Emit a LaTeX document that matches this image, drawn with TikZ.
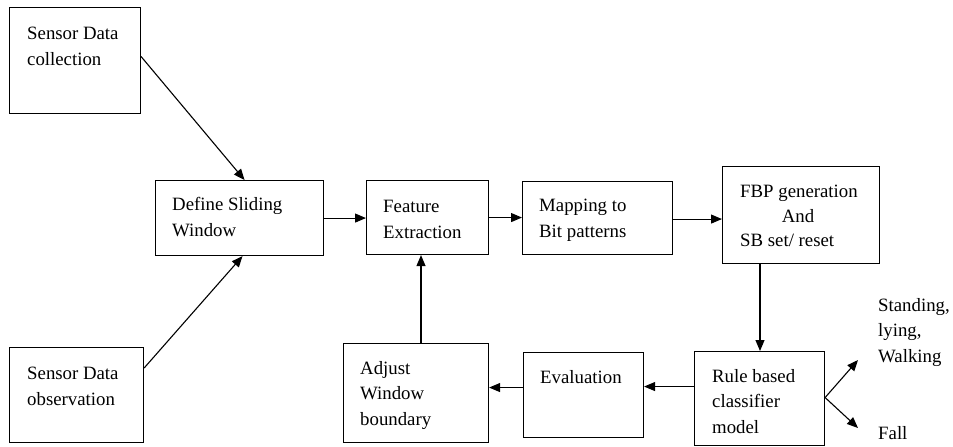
\documentclass[tikz,border=0pt]{standalone}
\usepackage{fontspec}
\setmainfont{Liberation Serif}
\usetikzlibrary{arrows.meta}
\begin{document}
\begin{tikzpicture}[x=1pt,y=-1pt,
  box/.style={draw, line width=1.1pt, inner sep=0pt, anchor=north west},
  txt/.style={anchor=base west, inner sep=0pt, align=left, font=\fontsize{18.8}{25.5}\selectfont},
  arr/.style={line width=1.1pt, -{Triangle[length=11pt,width=9pt]}},
  ln/.style={line width=1.1pt}]
\useasboundingbox (0,0) rectangle (953,447);
% boxes
\node[box, minimum width=131pt, minimum height=106pt] (col) at (9,7) {};
\node[box, minimum width=134pt, minimum height=95pt] (obs) at (9,347) {};
\node[box, minimum width=168pt, minimum height=75pt] (def) at (155,180) {};
\node[box, minimum width=122pt, minimum height=74pt] (fea) at (366,180) {};
\node[box, minimum width=150pt, minimum height=73pt] (map) at (522,181) {};
\node[box, minimum width=157pt, minimum height=97pt] (fbp) at (722,166) {};
\node[box, minimum width=130pt, minimum height=94pt] (rul) at (694,351) {};
\node[box, minimum width=120pt, minimum height=85pt] (eva) at (523,352) {};
\node[box, minimum width=145pt, minimum height=99pt] (adj) at (343,343) {};
% texts (anchor = baseline of last line)
\node[txt] (tcol) at (27,65) {Sensor Data\\collection};
\node[txt] (tobs) at (27,405) {Sensor Data\\observation};
\node[txt] (tdef) at (172,236) {Define Sliding\\Window};
\node[txt] (tfea) at (383,238) {Feature\\Extraction};
\node[txt] (tmap) at (539,237) {Mapping to\\Bit patterns};
\node[txt] (tfbp1) at (740,197) {FBP generation};
\node[txt, anchor=base] (tfbp2) at (798,222) {And};
\node[txt] (tfbp3) at (740,246) {SB set/ reset};
\node[txt] (trul) at (712,433) {Rule based\\classifier\\model};
\node[txt] (teva) at (540,383) {Evaluation};
\node[txt] (tadj) at (360,425) {Adjust\\Window\\boundary};
\node[txt] (tout1) at (878,362) {Standing,\\lying,\\Walking};
\node[txt] (tout2) at (878,439) {Fall};
% connectors
\draw[arr] ([yshift=4pt]col.east) -- ([xshift=5pt]def.north);
\draw[arr] ([yshift=27pt]obs.east) -- ([xshift=3pt]def.south);
\draw[arr] (def.east) -- (def.east -| fea.west);
\draw[arr] (fea.east) -- (fea.east -| map.west);
\draw[arr] ([yshift=-1pt]map.east) -- ([yshift=-1pt]map.east -| fbp.west);
\draw[arr] (fbp.south -| 760,0) -- (rul.north -| 760,0);
\draw[arr] ([yshift=12pt]rul.west) -- ([yshift=12pt]rul.west -| eva.east);
\draw[arr] ([yshift=7.5pt]eva.west) -- ([yshift=7.5pt]eva.west -| adj.east);
\draw[arr] (adj.north -| 421,0) -- (fea.south -| 421,0);
\coordinate (o1) at (858,360);
\coordinate (o2) at (858,428);
\draw[arr] ([yshift=1pt]rul.east) -- (o1);
\draw[arr] ([yshift=1pt]rul.east) -- (o2);
\end{tikzpicture}
\end{document}
